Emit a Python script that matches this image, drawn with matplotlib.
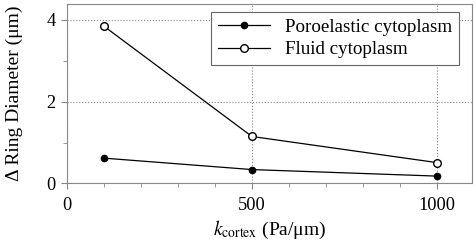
import matplotlib
matplotlib.use('Agg')
import matplotlib.pyplot as plt
from matplotlib.ticker import MultipleLocator

# данные
k_cortex = [100, 500, 1000]
poroelastic = [0.62, 0.34, 0.18]
fluid = [3.85, 1.15, 0.51]

plt.rcParams['font.family'] = ['Liberation Serif', 'DejaVu Serif']
plt.rcParams['mathtext.fontset'] = 'stix'

fig, ax = plt.subplots(figsize=(4.77, 2.43), dpi=100)
fig.subplots_adjust(left=0.14, right=0.99, top=0.985, bottom=0.245)

ax.plot(k_cortex, poroelastic, 'o-', color='black', markerfacecolor='black',
        markersize=4.5, linewidth=0.9, label='Poroelastic cytoplasm')
ax.plot(k_cortex, fluid, 'o-', color='black', markerfacecolor='white',
        markersize=5.5, linewidth=0.9, label='Fluid cytoplasm')

ax.set_xlim(0, 1095)
ax.set_ylim(0, 4.4)
ax.set_xticks([0, 500, 1000])
ax.set_yticks([0, 2, 4])
ax.xaxis.set_minor_locator(MultipleLocator(100))
ax.yaxis.set_minor_locator(MultipleLocator(1))
ax.tick_params(which='both', direction='out', color='#888888', labelsize=13.2)
ax.tick_params(which='major', length=4.5)
ax.tick_params(which='minor', length=3)
ax.tick_params(axis='x', pad=5.5)
ax.tick_params(axis='y', pad=3.5)
ax.grid(True, which='major', linestyle=':', color='#888888', linewidth=0.8)

for s in ax.spines.values():
    s.set_color('#888888')

ax.set_xlabel(r'$k_{\mathrm{cortex}}$ (Pa/μm)', fontsize=14, labelpad=3)
ax.set_ylabel('Δ Ring Diameter (μm)', fontsize=14, labelpad=17)

leg = ax.legend(loc='upper right', bbox_to_anchor=(0.968, 0.956), fontsize=13.7,
                fancybox=False, framealpha=1, edgecolor='#666666',
                borderaxespad=0, handlelength=2.7, borderpad=0.38,
                labelspacing=0.25, handletextpad=0.8)
leg.get_frame().set_linewidth(0.8)

fig.savefig('out.png', dpi=100)
